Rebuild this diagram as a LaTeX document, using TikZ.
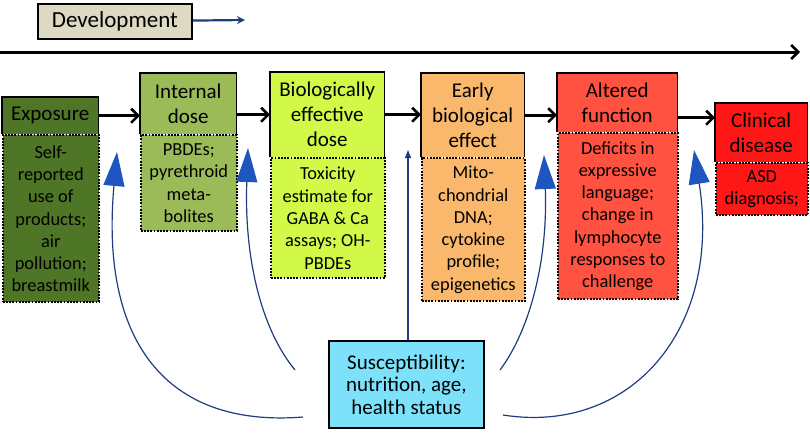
\documentclass[tikz,border=0pt]{standalone}
\usepackage{fontspec}
\setmainfont{Carlito}
\usetikzlibrary{positioning,arrows.meta}

\definecolor{devgray}{RGB}{221,217,195}
\definecolor{expgreen}{RGB}{79,118,38}
\definecolor{intgreen}{RGB}{155,187,89}
\definecolor{biolime}{RGB}{210,248,72}
\definecolor{earlyorange}{RGB}{250,184,108}
\definecolor{altred}{RGB}{255,82,64}
\definecolor{clinred}{RGB}{255,22,22}
\definecolor{suscblue}{RGB}{125,225,250}
\definecolor{navy}{RGB}{31,60,125}
\definecolor{tipblue}{RGB}{30,85,190}

\begin{document}
\begin{tikzpicture}[x=1pt,y=-1pt,
	head/.style={fill=#1,inner sep=0pt,anchor=north west,align=center,
		font=\fontsize{21}{25}\selectfont},
	detail/.style={fill=#1,draw=black,line width=1.6pt,dash pattern=on 1.8pt off 1.4pt,
		inner sep=0pt,anchor=north west,align=center,font=\fontsize{18.4}{22.3}\selectfont},
	rim/.style={draw=black,line width=1.8pt},
	flow/.style={line width=3pt,-{Straight Barb[length=7pt,width=14pt,line width=2.6pt]}},
	influence/.style={draw=navy,line width=1.2pt,
		-{Triangle[length=34pt,width=21pt,fill=tipblue,color=tipblue]}}
]
	\useasboundingbox (0,0) rectangle (810,432);

	% Development arrow and time line
	\node[fill=devgray,draw=black,line width=1.8pt,inner sep=0pt,anchor=north west,
		minimum width=154pt,minimum height=35pt,font=\fontsize{23}{25}\selectfont]
		(dev) at (37,3) {Development};
	\coordinate (devEnd) at (245,20);
	\draw[navy,line width=2.2pt,-{Stealth[length=8pt,width=8pt]}] (dev) -- (devEnd);

	\coordinate (timeStart) at (0,52);
	\coordinate (timeEnd) at (800,52);
	\draw[flow] (timeStart) -- (timeEnd);

	% Stages, header over dotted detail box
	\node[head=expgreen,minimum width=96pt,minimum height=37pt] (expH) at (2,97) {Exposure};
	\node[detail=expgreen,minimum width=96pt,minimum height=167pt] (expD) at (expH.south west)
		{Self-\\reported\\use of\\products;\\air\\pollution;\\breastmilk};

	\node[head=intgreen,minimum width=96pt,minimum height=61pt] (intH) at (140,73) {Internal\\dose};
	\node[detail=intgreen,minimum width=96pt,minimum height=96pt] (intD) at (intH.south west)
		{PBDEs;\\pyrethroid\\meta-\\bolites};

	\node[head=biolime,minimum width=114pt,minimum height=85pt] (bioH) at (270,72)
		{Biologically\\effective\\dose};
	\node[detail=biolime,minimum width=114pt,minimum height=120pt] (bioD) at (bioH.south west)
		{Toxicity\\estimate for\\GABA \& Ca\\assays; OH-\\PBDEs};

	\node[head=earlyorange,minimum width=103pt,minimum height=84pt] (earlyH) at (421,73)
		{Early\\biological\\effect};
	\node[detail=earlyorange,minimum width=103pt,minimum height=143pt] (earlyD) at (earlyH.south west)
		{Mito-\\chondrial\\DNA;\\cytokine\\profile;\\epigenetics};

	\node[head=altred,minimum width=120pt,minimum height=59pt] (altH) at (557,73)
		{Altered\\function};
	\node[detail=altred,minimum width=120pt,minimum height=166pt] (altD) at (altH.south west)
		{Deficits in\\expressive\\language;\\change in\\lymphocyte\\responses to\\challenge};

	\node[head=clinred,minimum width=92pt,minimum height=59pt] (clinH) at (715,103)
		{Clinical\\disease};
	\node[detail=clinred,minimum width=92pt,minimum height=52pt] (clinD) at (clinH.south west)
		{ASD\\diagnosis;};

	\foreach \n in {expH,intH,bioH,earlyH,altH,clinH}
		\draw[rim] (\n.south west) |- (\n.north east) -- (\n.south east);

	% arrows along the chain
	\draw[flow] (expH.east) -- (expH.east -| intH.west);
	\draw[flow] (bioH.west -| intH.east) -- (bioH.west);
	\draw[flow] (bioH.east) -- (bioH.east -| earlyH.west);
	\draw[flow] (earlyH.east) -- (earlyH.east -| altH.west);
	\draw[flow] ([yshift=-15pt]altH.east) -- ([yshift=-15pt]altH.east -| clinH.west);

	% Susceptibility
	\node[fill=suscblue,draw=black,line width=1.8pt,inner sep=0pt,anchor=north west,
		minimum width=155pt,minimum height=87pt,align=center,font=\fontsize{21}{22.5}\selectfont]
		(susc) at (328,340) {Susceptibility:\\nutrition, age,\\health status};

	\coordinate (outL) at (303,417);
	\coordinate (inL) at (295,370);
	\coordinate (inR) at (500,370);
	\coordinate (outR) at (503,415);
	\coordinate (tipA) at (117,152);
	\coordinate (tipB) at (248,148);
	\coordinate (tipM) at (408,149);
	\coordinate (tipC) at (544,155);
	\coordinate (tipD) at (694,150);

	\draw[influence] (outL) .. controls (165,428) and (100,340) .. (tipA);
	\draw[influence] (inL) .. controls (262,330) and (244,260) .. (tipB);
	\draw[navy,line width=2pt,-{Latex[length=9pt,width=7pt]}] (susc.north -| tipM) -- (tipM);
	\draw[influence] (inR) .. controls (530,330) and (548,260) .. (tipC);
	\draw[influence] (outR) .. controls (630,435) and (722,330) .. (tipD);
\end{tikzpicture}
\end{document}
